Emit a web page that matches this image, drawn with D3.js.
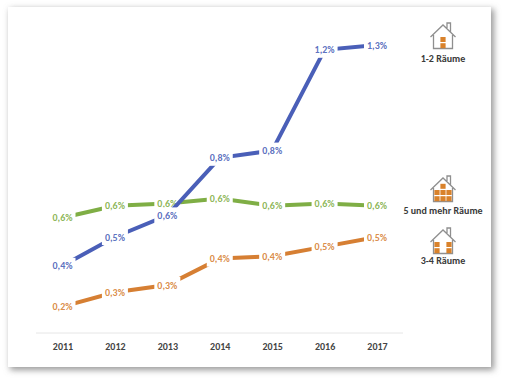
<!DOCTYPE html>
<html>
<head>
<meta charset="utf-8">
<script src="https://cdn.jsdelivr.net/npm/d3@7"></script>
<style>
  html, body { margin: 0; background: #fff; }
  svg { display: block; }
  text { font-family: Carlito, Lato, "Open Sans", sans-serif; }
</style>
</head>
<body>
<svg id="chart" width="506" height="382"></svg>
<script>
var years = [2011, 2012, 2013, 2014, 2015, 2016, 2017];

// values, printed labels kept apart since they are rounded
var rooms12 = [0.38, 0.50, 0.59, 0.83, 0.86, 1.28, 1.30],
    rooms5 = [0.58, 0.63, 0.64, 0.66, 0.63, 0.64, 0.63],
    rooms34 = [0.21, 0.27, 0.30, 0.41, 0.42, 0.46, 0.50];

var labels12 = ["0,4%", "0,5%", "0,6%", "0,8%", "0,8%", "1,2%", "1,3%"],
    labels5 = ["0,6%", "0,6%", "0,6%", "0,6%", "0,6%", "0,6%", "0,6%"],
    labels34 = ["0,2%", "0,3%", "0,3%", "0,4%", "0,4%", "0,5%", "0,5%"];

var BLUE = "#4a5fb8", GREEN = "#7fae45", ORANGE = "#d67f33";

var svg = d3.select("#chart");

var defs = svg.append("defs");
var blur = defs.append("filter").attr("id", "shadow")
    .attr("x", "-5%").attr("y", "-5%").attr("width", "110%").attr("height", "110%");
blur.append("feGaussianBlur").attr("stdDeviation", 3);

// card with soft shadow
svg.append("rect")
    .attr("x", 10).attr("y", 9).attr("width", 484).attr("height", 361)
    .attr("fill", "#999").attr("filter", "url(#shadow)");
svg.append("rect")
    .attr("x", 8).attr("y", 7).attr("width", 483).attr("height", 360)
    .attr("fill", "#fff");

var x = d3.scalePoint().domain(years).range([62.5, 377]),
    y = d3.scaleLinear().domain([0.05, 1.3]).range([345, 45]);

// baseline and year labels
var axis = svg.append("g")
    .attr("transform", "translate(0,333)")
    .call(d3.axisBottom(x).tickSize(0).tickPadding(10));
axis.select(".domain").attr("d", "M36,0H403").attr("stroke", "#e6e6e6");
axis.selectAll("text")
    .attr("fill", "#444").attr("font-size", 10).attr("font-weight", "bold")
    .style("font-family", "Carlito, Lato, 'Open Sans', sans-serif");

var line = d3.line().x(function(d, i) { return x(years[i]); }).y(function(d) { return y(d); });

var series = [
  { values: rooms5, labels: labels5, color: GREEN },
  { values: rooms12, labels: labels12, color: BLUE },
  { values: rooms34, labels: labels34, color: ORANGE }
];

series.forEach(function(s) {
  svg.append("path")
      .attr("d", line(s.values))
      .attr("fill", "none")
      .attr("stroke", s.color)
      .attr("stroke-width", 4);

  // white box behind each label cuts the line, like the original
  var g = svg.append("g").selectAll("g").data(s.values).enter().append("g")
      .attr("transform", function(d, i) { return "translate(" + x(years[i]) + "," + y(d) + ")"; });
  g.append("rect")
      .attr("x", -13).attr("y", -8).attr("width", 26).attr("height", 16)
      .attr("fill", "#fff");
  g.append("text")
      .attr("text-anchor", "middle").attr("dy", "0.35em")
      .attr("font-size", 10).attr("font-weight", "bold")
      .attr("fill", s.color).attr("fill-opacity", 0.9)
      .text(function(d, i) { return s.labels[i]; });
});

// little house icons, windows given as col,row on a small grid
var houses = [
  { name: "1-2 Räume", ty: 37, labelY: 62, windows: [[0, 0], [0, 1]] },
  { name: "5 und mehr Räume", ty: 190, labelY: 214, windows: [[0, -1], [-1, 0], [0, 0], [1, 0], [-1, 1], [0, 1], [1, 1]] },
  { name: "3-4 Räume", ty: 242, labelY: 264, windows: [[-1, 0], [1, 0], [-1, 1], [1, 1]] }
];

houses.forEach(function(h) {
  var g = svg.append("g").attr("transform", "translate(443," + h.ty + ")");
  g.append("path")
      .attr("d", "M-12.5,0L0,-12L12.5,0M-9.5,-2V11.5H9.5V-2M4,-9V-14H7.5V-5")
      .attr("fill", "none").attr("stroke", "#8f8f8f").attr("stroke-width", 1.3);
  g.selectAll("rect").data(h.windows).enter().append("rect")
      .attr("x", function(d) { return d[0] * 6 - 2.6; })
      .attr("y", function(d) { return d[1] * 6.2; })
      .attr("width", 5.2).attr("height", 5)
      .attr("fill", "#d9822b");
  svg.append("text")
      .attr("x", 443).attr("y", h.labelY)
      .attr("text-anchor", "middle")
      .attr("font-size", 10).attr("font-weight", "bold").attr("fill", "#3a3a3a")
      .text(h.name);
});
</script>
</body>
</html>
